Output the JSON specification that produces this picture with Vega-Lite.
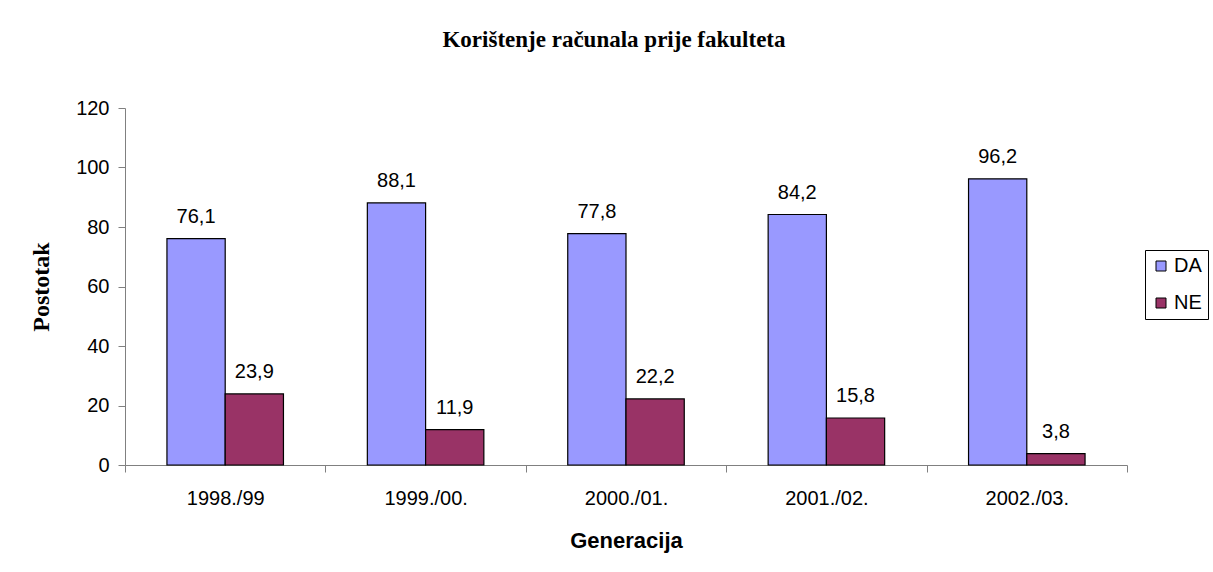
{
  "$schema": "https://vega.github.io/schema/vega-lite/v6.json",
  "autosize": "none",
  "width": 1002,
  "height": 357,
  "padding": {"left": 125, "top": 108, "right": 86, "bottom": 107},
  "background": "white",
  "title": {
    "text": "Korištenje računala prije fakulteta",
    "font": "Liberation Serif",
    "fontSize": 23,
    "fontWeight": "bold",
    "color": "black",
    "anchor": "middle",
    "frame": "group",
    "offset": 46,
    "dx": -12
  },
  "data": {
    "values": [
      {"gen": "1998./99", "odg": "DA", "v": 76.1, "lab": "76,1"},
      {"gen": "1998./99", "odg": "NE", "v": 23.9, "lab": "23,9"},
      {"gen": "1999./00.", "odg": "DA", "v": 88.1, "lab": "88,1"},
      {"gen": "1999./00.", "odg": "NE", "v": 11.9, "lab": "11,9"},
      {"gen": "2000./01.", "odg": "DA", "v": 77.8, "lab": "77,8"},
      {"gen": "2000./01.", "odg": "NE", "v": 22.2, "lab": "22,2"},
      {"gen": "2001./02.", "odg": "DA", "v": 84.2, "lab": "84,2"},
      {"gen": "2001./02.", "odg": "NE", "v": 15.8, "lab": "15,8"},
      {"gen": "2002./03.", "odg": "DA", "v": 96.2, "lab": "96,2"},
      {"gen": "2002./03.", "odg": "NE", "v": 3.8, "lab": "3,8"}
    ]
  },
  "encoding": {
    "x": {
      "field": "gen", "type": "nominal", "sort": null,
      "scale": {"paddingInner": 0, "paddingOuter": 0},
      "axis": {
        "title": "Generacija",
        "titleFont": "Liberation Sans", "titleFontSize": 22, "titleFontWeight": "bold",
        "titleColor": "black", "titlePadding": 22,
        "labelFont": "Liberation Sans", "labelFontSize": 20, "labelColor": "black",
        "labelAngle": 0, "labelPadding": 16,
        "tickBand": "extent", "tickSize": 7, "tickColor": "#808080",
        "domainColor": "#808080", "grid": false
      }
    },
    "xOffset": {"field": "odg", "type": "nominal", "scale": {"paddingOuter": 0.72, "paddingInner": 0}},
    "y": {
      "field": "v", "type": "quantitative",
      "scale": {"domain": [0, 120], "nice": false},
      "axis": {
        "title": "Postotak",
        "titleFont": "Liberation Serif", "titleFontSize": 24, "titleFontWeight": "bold",
        "titleColor": "black", "titlePadding": 22,
        "labelFont": "Liberation Sans", "labelFontSize": 20, "labelColor": "black",
        "labelPadding": 9, "values": [0, 20, 40, 60, 80, 100, 120],
        "tickSize": 7, "tickColor": "#808080", "domainColor": "#808080", "grid": false
      }
    }
  },
  "layer": [
    {
      "mark": {"type": "bar", "stroke": "black", "strokeWidth": 1.2},
      "encoding": {
        "color": {
          "field": "odg", "type": "nominal",
          "scale": {"domain": ["DA", "NE"], "range": ["#9999FF", "#993366"]},
          "legend": {
            "title": null, "orient": "none", "legendX": 1020, "legendY": 142,
            "strokeColor": "black", "padding": 6, "symbolType": "square",
            "symbolSize": 100, "symbolStrokeColor": "black", "symbolStrokeWidth": 1,
            "labelFont": "Liberation Sans", "labelFontSize": 20, "labelColor": "black",
            "rowPadding": 17, "labelOffset": 3, "fillColor": "white"
          }
        }
      }
    },
    {
      "mark": {"type": "text", "baseline": "alphabetic", "dy": -16, "font": "Liberation Sans", "fontSize": 20, "color": "black"},
      "encoding": {"text": {"field": "lab"}}
    }
  ],
  "config": {"view": {"stroke": null}}
}
